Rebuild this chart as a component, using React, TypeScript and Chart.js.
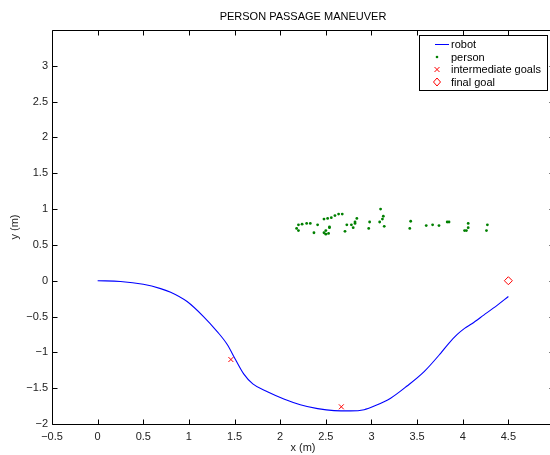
import React, { useEffect, useRef } from 'react';
import { Chart, registerables } from 'chart.js';

Chart.register(...registerables);

// ---------- data ----------
const robotX = [0, 0.25, 0.5, 0.69, 0.8, 0.98, 1.16, 1.31, 1.42, 1.51, 1.6, 1.7, 1.86, 2.04, 2.22, 2.41, 2.59, 2.77, 2.92, 3.03, 3.21, 3.39, 3.58, 3.76, 3.85, 3.94, 4.02, 4.1, 4.23, 4.38, 4.5];
const robotY = [0, -0.01, -0.05, -0.11, -0.16, -0.29, -0.5, -0.71, -0.89, -1.1, -1.3, -1.44, -1.55, -1.65, -1.73, -1.785, -1.813, -1.817, -1.8, -1.75, -1.64, -1.47, -1.265, -1.01, -0.87, -0.75, -0.665, -0.6, -0.48, -0.34, -0.22];

const personX = [2.18, 2.2, 2.2, 2.24, 2.29, 2.33, 2.37, 2.41, 2.48, 2.48, 2.5, 2.5, 2.52, 2.53, 2.54, 2.54, 2.56, 2.6, 2.64, 2.68, 2.71, 2.73, 2.78, 2.8, 2.82, 2.82, 2.84, 2.97, 2.98, 3.09, 3.1, 3.12, 3.13, 3.14, 3.42, 3.43, 3.6, 3.67, 3.74, 3.83, 3.85, 4.02, 4.04, 4.06, 4.06, 4.26, 4.27];
const personY = [0.73, 0.7, 0.78, 0.79, 0.8, 0.8, 0.67, 0.78, 0.86, 0.67, 0.7, 0.65, 0.87, 0.66, 0.75, 0.74, 0.88, 0.91, 0.93, 0.93, 0.69, 0.78, 0.78, 0.74, 0.82, 0.8, 0.87, 0.73, 0.82, 0.82, 1.0, 0.86, 0.9, 0.76, 0.73, 0.83, 0.77, 0.78, 0.77, 0.82, 0.82, 0.7, 0.7, 0.74, 0.8, 0.7, 0.78];

const goalX = [1.46, 2.67];
const goalY = [-1.1, -1.76];

const finalX = [4.5];
const finalY = [0];

const xTicks = [-0.5, 0, 0.5, 1, 1.5, 2, 2.5, 3, 3.5, 4, 4.5];
const yTicks = [-2, -1.5, -1, -0.5, 0, 0.5, 1, 1.5, 2, 2.5, 3];

const seriesLabels = ['robot', 'person', 'intermediate goals', 'final goal'];
const titleText = 'PERSON PASSAGE MANEUVER';
const xTitle = 'x (m)';
const yTitle = 'y (m)';

const FONT = '"Liberation Sans", Arial, Helvetica, sans-serif';

const fmt = (v: number) => {
  const s = String(Math.abs(v));
  return v < 0 ? '\u2212' + s : s;
};

const zip = (xs: number[], ys: number[]) => xs.map((x, i) => ({ x, y: ys[i] }));

// frame + inward ticks (MATLAB style box)
const framePlugin = {
  id: 'frameTicks',
  afterDatasetsDraw(chart: any) {
    const { ctx, chartArea: a, scales } = chart;
    const xs = scales.x;
    const ys = scales.y;
    const L = Math.round(a.left) + 0.5;
    const R = Math.round(a.right) + 0.5;
    const T = Math.round(a.top) + 0.5;
    const B = Math.round(a.bottom) + 0.5;
    const tl = 5;
    ctx.save();
    ctx.strokeStyle = '#000';
    ctx.lineWidth = 1;
    ctx.beginPath();
    ctx.rect(L, T, R - L, B - T);
    xTicks.forEach((v) => {
      const px = Math.round(xs.getPixelForValue(v)) + 0.5;
      ctx.moveTo(px, B);
      ctx.lineTo(px, B - tl);
      ctx.moveTo(px, T);
      ctx.lineTo(px, T + tl);
    });
    yTicks.forEach((v) => {
      const py = Math.round(ys.getPixelForValue(v)) + 0.5;
      ctx.moveTo(L, py);
      ctx.lineTo(L + tl, py);
      ctx.moveTo(R, py);
      ctx.lineTo(R - tl, py);
    });
    ctx.stroke();
    ctx.restore();
  },
};

const legendPlugin = {
  id: 'boxLegend',
  afterDraw(chart: any) {
    const { ctx } = chart;
    const bx = 419.5, by = 35.5, bw = 128, bh = 55;
    const rows = [44.5, 57, 69.5, 82];
    const mx = 437;
    ctx.save();
    ctx.fillStyle = '#fff';
    ctx.fillRect(bx, by, bw, bh);
    ctx.strokeStyle = '#000';
    ctx.lineWidth = 1;
    ctx.strokeRect(bx, by, bw, bh);
    chart.data.datasets.forEach((ds: any, i: number) => {
      const y = rows[i];
      ctx.save();
      if (i === 0) {
        ctx.strokeStyle = ds.borderColor;
        ctx.lineWidth = 1;
        ctx.beginPath();
        ctx.moveTo(435, y);
        ctx.lineTo(449, y);
        ctx.stroke();
      } else if (i === 1) {
        ctx.fillStyle = ds.backgroundColor;
        ctx.beginPath();
        ctx.arc(mx, y, 1.3, 0, Math.PI * 2);
        ctx.fill();
      } else if (i === 2) {
        ctx.strokeStyle = ds.borderColor;
        ctx.lineWidth = 1;
        ctx.beginPath();
        ctx.moveTo(mx - 2.5, y - 2.5);
        ctx.lineTo(mx + 2.5, y + 2.5);
        ctx.moveTo(mx + 2.5, y - 2.5);
        ctx.lineTo(mx - 2.5, y + 2.5);
        ctx.stroke();
      } else {
        ctx.strokeStyle = ds.borderColor;
        ctx.lineWidth = 1;
        ctx.beginPath();
        ctx.moveTo(mx, y - 4);
        ctx.lineTo(mx + 3.5, y);
        ctx.lineTo(mx, y + 4);
        ctx.lineTo(mx - 3.5, y);
        ctx.closePath();
        ctx.stroke();
      }
      ctx.restore();
      ctx.fillStyle = '#000';
      ctx.font = '11px ' + FONT;
      ctx.textBaseline = 'middle';
      ctx.textAlign = 'left';
      ctx.fillText(ds.label, 451, y + 0.5);
    });
    ctx.restore();
  },
};

export default function App() {
  const ref = useRef<HTMLCanvasElement | null>(null);

  useEffect(() => {
    if (!ref.current) return;
    Chart.defaults.font.family = FONT;
    Chart.defaults.font.size = 11;
    Chart.defaults.color = '#000';

    const chart = new Chart(ref.current, {
      type: 'scatter',
      data: {
        datasets: [
          {
            label: seriesLabels[0],
            data: zip(robotX, robotY),
            showLine: true,
            borderColor: '#0000ff',
            backgroundColor: '#0000ff',
            borderWidth: 1.1,
            pointRadius: 0,
            cubicInterpolationMode: 'monotone',
          } as any,
          {
            label: seriesLabels[1],
            data: zip(personX, personY),
            pointStyle: 'circle',
            pointRadius: 1.4,
            backgroundColor: '#008000',
            borderColor: '#008000',
            borderWidth: 0,
          },
          {
            label: seriesLabels[2],
            data: zip(goalX, goalY),
            pointStyle: 'crossRot',
            pointRadius: 3.5,
            borderColor: '#ff0000',
            backgroundColor: '#ff0000',
            borderWidth: 1,
          },
          {
            label: seriesLabels[3],
            data: zip(finalX, finalY),
            pointStyle: 'rectRot',
            pointRadius: 4,
            borderColor: '#ff0000',
            backgroundColor: 'rgba(0,0,0,0)',
            borderWidth: 1,
          },
        ],
      },
      options: {
        responsive: false,
        animation: false,
        devicePixelRatio: 1,
        layout: { padding: { top: 0, right: 6, bottom: 0, left: 0 } },
        plugins: {
          legend: { display: false },
          tooltip: { enabled: false },
          title: {
            display: true,
            text: titleText,
            fullSize: false,
            color: '#000',
            font: { size: 11, weight: 'normal', family: FONT },
            padding: { top: 10, bottom: 6.8 },
          },
        },
        scales: {
          x: {
            type: 'linear',
            min: -0.5,
            max: 5,
            afterBuildTicks: (s: any) => {
              s.ticks = xTicks.map((v) => ({ value: v }));
            },
            afterFit: (s: any) => {
              s.height = 31;
            },
            grid: { display: false, drawTicks: false },
            border: { display: false },
            ticks: {
              padding: 6,
              color: '#222',
              font: { size: 11, family: FONT },
              maxRotation: 0,
              autoSkip: false,
              callback: (v: any) => fmt(Number(v)),
            },
            title: {
              display: true,
              text: xTitle,
              color: '#222',
              font: { size: 11, family: FONT },
              padding: { top: 0, bottom: 0 },
            },
          },
          y: {
            type: 'linear',
            min: -2,
            max: 3.5,
            afterBuildTicks: (s: any) => {
              s.ticks = yTicks.map((v) => ({ value: v }));
            },
            afterFit: (s: any) => {
              s.width = 52;
            },
            grid: { display: false, drawTicks: false },
            border: { display: false },
            ticks: {
              padding: 4,
              color: '#222',
              font: { size: 11, family: FONT },
              autoSkip: false,
              callback: (v: any) => fmt(Number(v)),
            },
            title: {
              display: true,
              text: yTitle,
              color: '#222',
              font: { size: 11, family: FONT },
              padding: { top: 8, bottom: 0 },
            },
          },
        },
      },
      plugins: [framePlugin, legendPlugin],
    });
    return () => chart.destroy();
  }, []);

  return (
    <div
      style={{
        position: 'fixed',
        left: 0,
        top: 0,
        width: 550,
        height: 455,
        overflow: 'hidden',
        background: '#fff',
      }}
    >
      <canvas ref={ref} width={560} height={455} style={{ display: 'block' }} />
    </div>
  );
}
